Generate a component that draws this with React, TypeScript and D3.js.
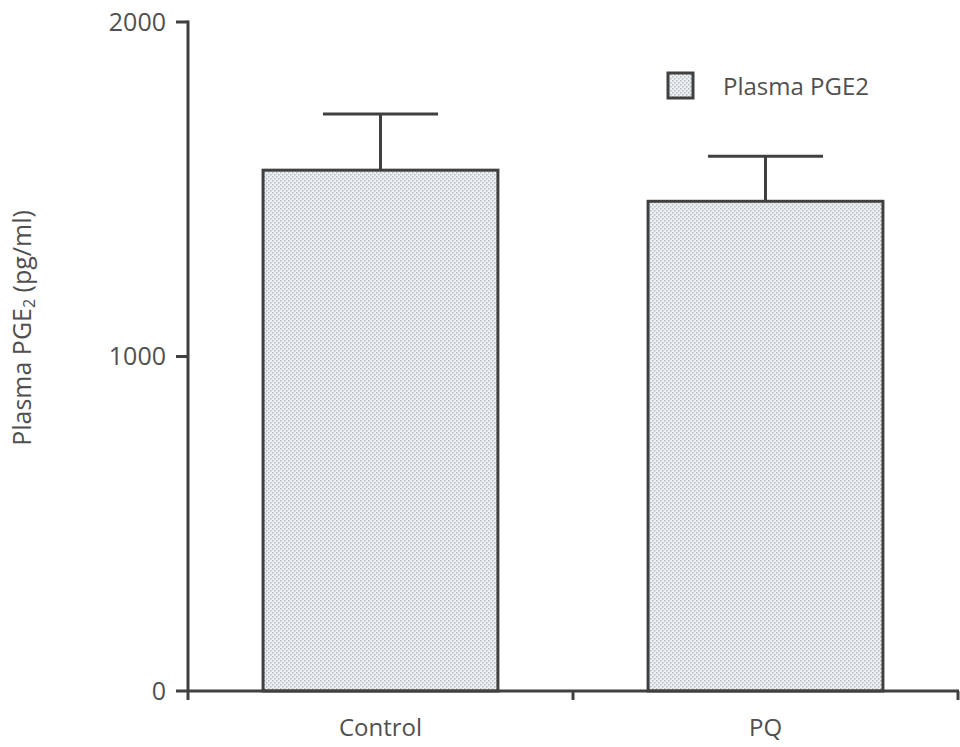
import React from "react";
import * as d3 from "d3";

// values
const categories = ["Control", "PQ"];
const means = [1557, 1464];
const errors = [168, 135];
const yTicks = [0, 1000, 2000];
const legendLabel = "Plasma PGE2";

const W = 960;
const H = 747;
const ink = "#404040";
const textInk = "#505050";
const font = "'Open Sans', sans-serif";

const App = () => {
  const x = d3
    .scaleBand()
    .domain(categories)
    .range([188, 958])
    .paddingInner(0.39)
    .paddingOuter(0.195);
  const y = d3.scaleLinear().domain([0, 2000]).range([691, 22]);

  const step = x.step();
  const boundaries = [188, ...categories.map(c => (x(c) as number) - x.paddingOuter() * step + step)];
  const capHalf = x.bandwidth() * 0.245;

  return (
    <svg
      width={W}
      height={H}
      style={{ position: "absolute", left: 0, top: 0, background: "#fff" }}
    >
      <defs>
        <pattern id="stipple" width="4" height="4" patternUnits="userSpaceOnUse">
          <rect width="4" height="4" fill="#eef1f3" />
          <rect x="0" y="0" width="1.5" height="1.5" fill="#b3bac2" />
          <rect x="2" y="2" width="1.5" height="1.5" fill="#b3bac2" />
        </pattern>
      </defs>

      {/* bars with error bars */}
      {categories.map((c, i) => {
        const x0 = x(c) as number;
        const cx = x0 + x.bandwidth() / 2;
        return (
          <g key={c}>
            <line x1={cx} x2={cx} y1={y(means[i])} y2={y(means[i] + errors[i])} stroke={ink} strokeWidth={3} />
            <line
              x1={cx - capHalf}
              x2={cx + capHalf}
              y1={y(means[i] + errors[i])}
              y2={y(means[i] + errors[i])}
              stroke={ink}
              strokeWidth={3}
            />
            <rect
              x={x0}
              y={y(means[i])}
              width={x.bandwidth()}
              height={y(0) - y(means[i])}
              fill="url(#stipple)"
              stroke={ink}
              strokeWidth={3}
            />
            <text
              x={cx}
              y={736}
              textAnchor="middle"
              fontFamily={font}
              fontSize={24}
              fill={textInk}
            >
              {c}
            </text>
          </g>
        );
      })}

      {/* y axis */}
      <line x1={188} x2={188} y1={y(2000) - 1.5} y2={y(0)} stroke={ink} strokeWidth={3} />
      {yTicks.map(t => (
        <g key={t}>
          <line x1={176} x2={188} y1={y(t)} y2={y(t)} stroke={ink} strokeWidth={3} />
          <text
            x={166}
            y={y(t)}
            dy="0.35em"
            textAnchor="end"
            fontFamily={font}
            fontSize={25}
            fill={textInk}
          >
            {t}
          </text>
        </g>
      ))}

      {/* x axis */}
      <line x1={188} x2={959} y1={y(0)} y2={y(0)} stroke={ink} strokeWidth={3} />
      {boundaries.map((b, i) => (
        <line key={i} x1={b} x2={b} y1={y(0)} y2={y(0) + 9} stroke={ink} strokeWidth={3} />
      ))}

      {/* y label */}
      <text
        transform="translate(31,328) rotate(-90)"
        textAnchor="middle"
        fontFamily={font}
        fontSize={25}
        fill={textInk}
      >
        Plasma PGE<tspan fontSize={16} dy={4}>2</tspan>
        <tspan dy={-4}> (pg/ml)</tspan>
      </text>

      {/* legend */}
      <rect x={668} y={73} width={25} height={25} fill="url(#stipple)" stroke={ink} strokeWidth={3} />
      <text x={723} y={95} fontFamily={font} fontSize={24} fill={textInk}>
        {legendLabel}
      </text>
    </svg>
  );
};

export default App;
